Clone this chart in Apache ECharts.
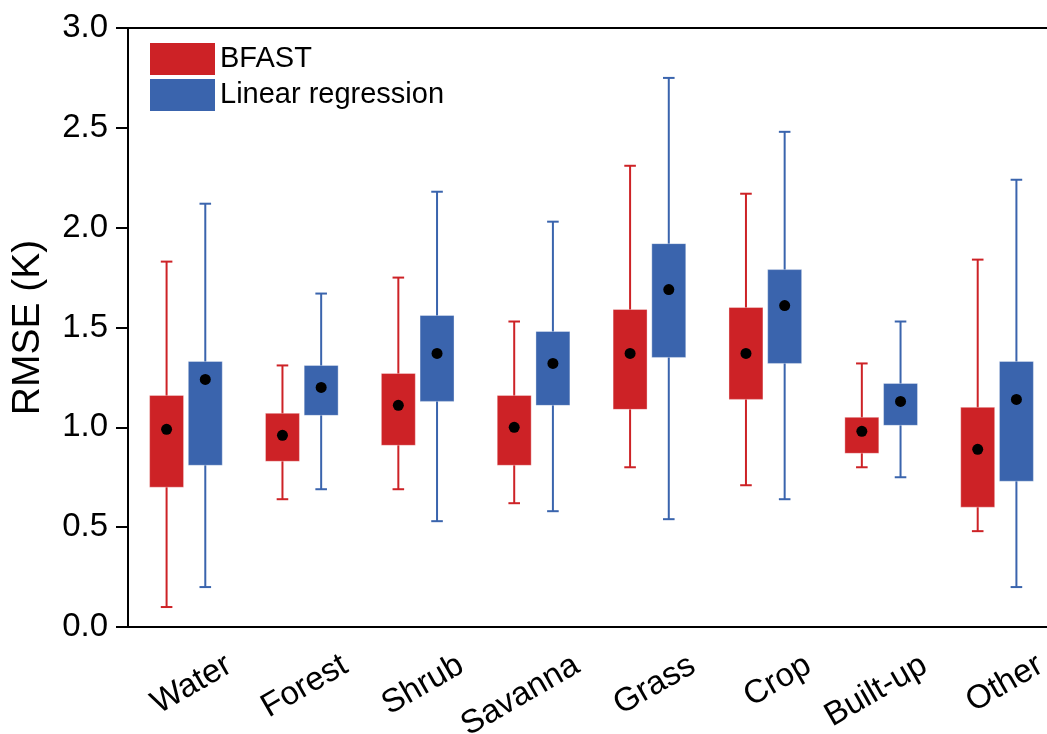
<!DOCTYPE html>
<html>
<head>
<meta charset="utf-8">
<script src="https://cdn.jsdelivr.net/npm/echarts@6/dist/echarts.min.js"></script>
<style>
  html, body { margin: 0; padding: 0; background: #fff; }
  #chart { width: 1047px; height: 734px; }
</style>
</head>
<body>
<div id="chart"></div>
<script>
// Land-cover classes on the x axis
const categories = ['Water', 'Forest', 'Shrub', 'Savanna', 'Grass', 'Crop', 'Built-up', 'Other'];

// BFAST RMSE statistics (K): whisker ends, quartiles, mean
const bfastLow  = [0.10, 0.64, 0.69, 0.62, 0.80, 0.71, 0.80, 0.48];
const bfastQ1   = [0.70, 0.83, 0.91, 0.81, 1.09, 1.14, 0.87, 0.60];
const bfastMean = [0.99, 0.96, 1.11, 1.00, 1.37, 1.37, 0.98, 0.89];
const bfastQ3   = [1.16, 1.07, 1.27, 1.16, 1.59, 1.60, 1.05, 1.10];
const bfastHigh = [1.83, 1.31, 1.75, 1.53, 2.31, 2.17, 1.32, 1.84];

// Linear regression RMSE statistics (K)
const lrLow  = [0.20, 0.69, 0.53, 0.58, 0.54, 0.64, 0.75, 0.20];
const lrQ1   = [0.81, 1.06, 1.13, 1.11, 1.35, 1.32, 1.01, 0.73];
const lrMean = [1.24, 1.20, 1.37, 1.32, 1.69, 1.61, 1.13, 1.14];
const lrQ3   = [1.33, 1.31, 1.56, 1.48, 1.92, 1.79, 1.22, 1.33];
const lrHigh = [2.12, 1.67, 2.18, 2.03, 2.75, 2.48, 1.53, 2.24];

// Y axis tick values
const yTicks = [0.0, 0.5, 1.0, 1.5, 2.0, 2.5, 3.0];

const RED = '#CD2226';
const BLUE = '#3A64AD';
const FONT = '"Liberation Sans", Arial, sans-serif';

function rows(low, q1, mean, q3, high) {
  return categories.map((c, i) => [i, low[i], q1[i], mean[i], q3[i], high[i]]);
}

// Draws one box: whisker, caps, quartile box and mean dot, shifted within the band
function boxRenderer(color, side) {
  return function (params, api) {
    const idx = api.value(0);
    const band = api.size([1, 0])[0];
    const cx = api.coord([idx, 0])[0] + side * band * 0.167;
    const boxW = band * 0.293;
    const capW = band * 0.1;
    const yLow = api.coord([idx, api.value(1)])[1];
    const yQ1 = api.coord([idx, api.value(2)])[1];
    const yMean = api.coord([idx, api.value(3)])[1];
    const yQ3 = api.coord([idx, api.value(4)])[1];
    const yHigh = api.coord([idx, api.value(5)])[1];
    const lineStyle = { stroke: color, lineWidth: 2 };
    return {
      type: 'group',
      children: [
        { type: 'line', shape: { x1: cx, y1: yHigh, x2: cx, y2: yLow }, style: lineStyle },
        { type: 'line', shape: { x1: cx - capW / 2, y1: yHigh, x2: cx + capW / 2, y2: yHigh }, style: lineStyle },
        { type: 'line', shape: { x1: cx - capW / 2, y1: yLow, x2: cx + capW / 2, y2: yLow }, style: lineStyle },
        {
          type: 'rect',
          shape: { x: cx - boxW / 2, y: yQ3, width: boxW, height: yQ1 - yQ3 },
          style: { fill: color, stroke: 'rgba(255,255,255,0.35)', lineWidth: 1 }
        },
        { type: 'circle', shape: { cx: cx, cy: yMean, r: 5.5 }, style: { fill: '#000' } }
      ]
    };
  };
}

const chart = echarts.init(document.getElementById('chart'), null, { renderer: 'canvas' });

chart.setOption({
  animation: false,
  backgroundColor: '#fff',
  textStyle: { fontFamily: FONT },
  grid: {
    left: 128, top: 28, width: 927, height: 599,
    outerBoundsMode: 'none', containLabel: false,
    show: true, borderColor: '#000', borderWidth: 2, backgroundColor: 'transparent'
  },
  legend: {
    left: 150, top: 43, orient: 'vertical', padding: 0,
    itemWidth: 65, itemHeight: 32, itemGap: 4,
    textStyle: { fontSize: 29, color: '#000', fontFamily: FONT },
    data: [
      { name: 'BFAST', icon: 'rect', itemStyle: { color: RED } },
      { name: 'Linear regression', icon: 'rect', itemStyle: { color: BLUE } }
    ]
  },
  xAxis: {
    type: 'category',
    data: categories,
    boundaryGap: true,
    axisLine: { lineStyle: { color: '#000', width: 2 } },
    axisTick: { alignWithLabel: true, inside: false, length: 12, lineStyle: { color: '#000', width: 2 } },
    axisLabel: {
      interval: 0, rotate: 30, fontSize: 33, color: '#000', fontFamily: FONT,
      align: 'right', verticalAlign: 'middle',
      margin: 61, padding: [0, -50, 0, 0]
    },
    splitLine: { show: false }
  },
  yAxis: {
    type: 'value',
    min: yTicks[0], max: yTicks[yTicks.length - 1], interval: 0.5,
    name: 'RMSE (K)', nameLocation: 'middle', nameGap: 80,
    nameTextStyle: { fontSize: 39, color: '#000', fontFamily: FONT },
    axisLine: { show: true, lineStyle: { color: '#000', width: 2 } },
    axisTick: { show: true, length: 12, lineStyle: { color: '#000', width: 2 } },
    axisLabel: {
      fontSize: 33, color: '#000', margin: 20, fontFamily: FONT,
      formatter: v => v.toFixed(1)
    },
    splitLine: { show: false }
  },
  series: [
    {
      name: 'BFAST', type: 'custom',
      itemStyle: { color: RED },
      encode: { x: 0, y: [1, 2, 3, 4, 5] },
      renderItem: boxRenderer(RED, -1),
      data: rows(bfastLow, bfastQ1, bfastMean, bfastQ3, bfastHigh)
    },
    {
      name: 'Linear regression', type: 'custom',
      itemStyle: { color: BLUE },
      encode: { x: 0, y: [1, 2, 3, 4, 5] },
      renderItem: boxRenderer(BLUE, 1),
      data: rows(lrLow, lrQ1, lrMean, lrQ3, lrHigh)
    }
  ]
});
</script>
</body>
</html>
